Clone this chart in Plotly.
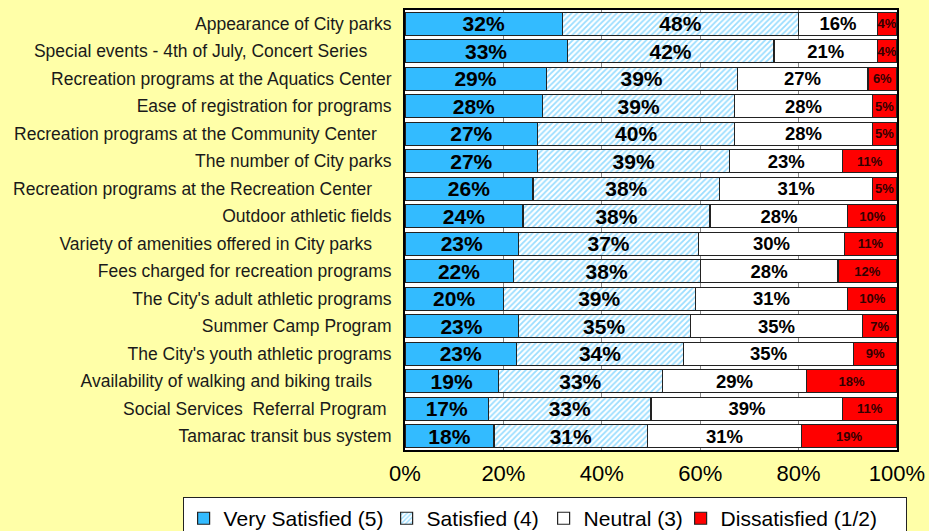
import plotly.graph_objects as go

NB = "\u00a0"
categories = [
    "Appearance of City parks",
    "Special events - 4th of July, Concert Series" + NB * 5,
    "Recreation programs at the Aquatics Center",
    "Ease of registration for programs",
    "Recreation programs at the Community Center" + NB * 3,
    "The number of City parks",
    "Recreation programs at the Recreation Center" + NB * 4,
    "Outdoor athletic fields",
    "Variety of amenities offered in City parks" + NB * 4,
    "Fees charged for recreation programs",
    "The City's adult athletic programs",
    "Summer Camp Program",
    "The City's youth athletic programs",
    "Availability of walking and biking trails" + NB * 4,
    "Social Services" + NB * 2 + "Referral Program" + NB,
    "Tamarac transit bus system",
]

very_satisfied = [32, 33, 28.7, 28, 27, 27, 26, 24, 23.1, 22, 20, 23, 22.7, 19.0, 17, 18.1]
satisfied      = [48, 42, 38.8, 39, 40, 39, 38, 38, 36.6, 38, 39, 35, 33.9, 33.3, 33, 31.2]
neutral        = [16, 21, 26.6, 28, 28, 23, 31, 28, 29.6, 28, 31, 35, 34.6, 29.3, 39, 31.3]
dissatisfied   = [4, 4, 5.9, 5, 5, 11, 5, 10, 10.7, 12, 10, 7, 8.8, 18.4, 11, 19.4]

series_names = ["Very Satisfied (5)", "Satisfied (4)", "Neutral (3)", "Dissatisfied (1/2)"]
x_ticks = [0, 20, 40, 60, 80, 100]
x_tick_labels = ["0%", "20%", "40%", "60%", "80%", "100%"]

FONT = "Liberation Sans, Arial, Helvetica, sans-serif"
BLUE = "#33BBFF"
line = dict(color="#222222", width=1.2)
common = dict(orientation="h", textposition="inside", insidetextanchor="middle",
              constraintext="none", textangle=0, texttemplate="<b>%{x:.0f}%</b>")

fig = go.Figure()
fig.add_trace(go.Bar(
    y=categories, x=very_satisfied, name=series_names[0], legendwidth=158,
    marker=dict(color=BLUE, line=line),
    textfont=dict(family=FONT, size=21, color="black"), **common,
))
fig.add_trace(go.Bar(
    y=categories, x=satisfied, name=series_names[1], legendwidth=112,
    marker=dict(color="white", line=line,
                pattern=dict(shape="/", fgcolor=BLUE, bgcolor="white", size=4, solidity=0.45)),
    textfont=dict(family=FONT, size=21, color="black"), **common,
))
fig.add_trace(go.Bar(
    y=categories, x=neutral, name=series_names[2], legendwidth=92,
    marker=dict(color="white", line=line),
    textfont=dict(family=FONT, size=18.5, color="black"), **common,
))
fig.add_trace(go.Bar(
    y=categories, x=dissatisfied, name=series_names[3], legendwidth=180,
    marker=dict(color="#FF0000", line=line),
    textfont=dict(family=FONT, size=13, color="#330000"), **common,
))

fig.update_layout(
    barmode="stack",
    bargap=0.17,
    width=929, height=531,
    margin=dict(l=405, r=32, t=10, b=81, autoexpand=False),
    paper_bgcolor="#FFFFA8",
    plot_bgcolor="white",
    font=dict(family=FONT, color="black"),
    hovermode=False,
    legend=dict(
        orientation="h", x=-0.452, xanchor="left", y=-0.107, yanchor="top",
        bgcolor="white", bordercolor="#222222", borderwidth=1,
        font=dict(family=FONT, size=21, color="black"),
        itemwidth=30, tracegroupgap=0, traceorder="normal",
    ),
    xaxis=dict(
        range=[0, 100], tickvals=x_ticks, ticktext=x_tick_labels,
        tickfont=dict(family=FONT, size=22, color="black"),
        showgrid=True, gridcolor="#888888", gridwidth=1,
        showline=True, linecolor="black", linewidth=2, mirror=True,
        zeroline=False, ticks="", ticklabelstandoff=3,
    ),
    yaxis=dict(
        autorange="reversed",
        tickfont=dict(family=FONT, size=17.5, color="#1a1a1a"),
        showline=True, linecolor="black", linewidth=2, mirror=True,
        ticks="", ticklabelstandoff=8, showgrid=False,
    ),
)

fig.write_html(
    "out.html",
    config={"displayModeBar": False},
    post_script="document.body.style.margin='0';document.body.style.background='#FFFFA8';",
)
